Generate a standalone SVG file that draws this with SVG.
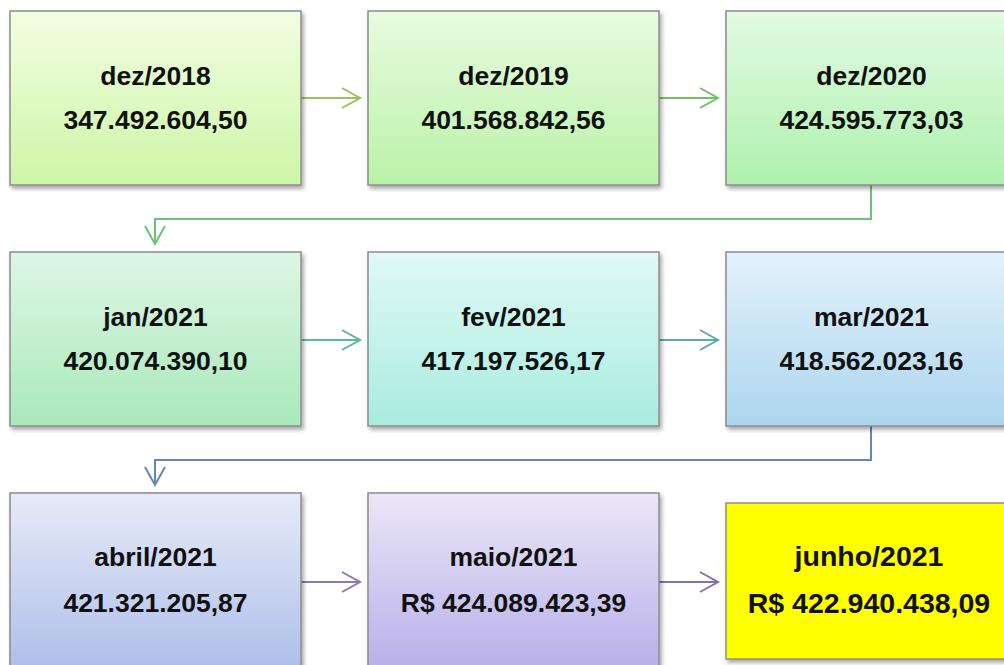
<svg xmlns="http://www.w3.org/2000/svg" width="1004" height="665" viewBox="0 0 1004 665">
<defs>
<style>
.box{stroke:#8c8c8c;stroke-width:1.5;filter:url(#sh)}
.t{font-family:"Liberation Sans",Arial,sans-serif;font-weight:bold;font-size:26.5px;fill:#111;text-anchor:middle}
.ty{font-size:28.5px}
.c{fill:none;stroke-width:2}
</style>
<filter id="sh" x="-5%" y="-5%" width="115%" height="115%">
<feDropShadow dx="2" dy="3" stdDeviation="2" flood-color="#000" flood-opacity="0.35"/>
</filter>
<linearGradient id="g1" x1="0" y1="0" x2="0" y2="1"><stop offset="0" stop-color="#f3fde2"/><stop offset="1" stop-color="#cdf6a6"/></linearGradient>
<linearGradient id="g2" x1="0" y1="0" x2="0" y2="1"><stop offset="0" stop-color="#e9fbdf"/><stop offset="1" stop-color="#baf2a9"/></linearGradient>
<linearGradient id="g3" x1="0" y1="0" x2="0" y2="1"><stop offset="0" stop-color="#e3fae2"/><stop offset="1" stop-color="#aef1ad"/></linearGradient>
<linearGradient id="g4" x1="0" y1="0" x2="0" y2="1"><stop offset="0" stop-color="#def6e5"/><stop offset="1" stop-color="#a9e9bb"/></linearGradient>
<linearGradient id="g5" x1="0" y1="0" x2="0" y2="1"><stop offset="0" stop-color="#e0f9f6"/><stop offset="1" stop-color="#a9ecdf"/></linearGradient>
<linearGradient id="g6" x1="0" y1="0" x2="0" y2="1"><stop offset="0" stop-color="#e4f1fa"/><stop offset="1" stop-color="#acd6ee"/></linearGradient>
<linearGradient id="g7" x1="0" y1="0" x2="0" y2="1"><stop offset="0" stop-color="#e7ebf8"/><stop offset="1" stop-color="#b0bfea"/></linearGradient>
<linearGradient id="g8" x1="0" y1="0" x2="0" y2="1"><stop offset="0" stop-color="#ebe7f7"/><stop offset="1" stop-color="#b9b0ea"/></linearGradient>
</defs>
<rect width="1004" height="665" fill="#fff"/>
<g id="connectors" class="c">
<path d="M301 98H359M342 88L360 98L342 108" stroke="#9bc35a"/>
<path d="M659 98H717M700 88L718 98L700 108" stroke="#72c063"/>
<path d="M871 185V219H155V243M145 226L155 244L165 226" stroke="#6cc17a"/>
<path d="M301 340H359M342 330L360 340L342 350" stroke="#5bb894"/>
<path d="M659 340H717M700 330L718 340L700 350" stroke="#5aaab0"/>
<path d="M871 426V460H155V484M145 467L155 485L165 467" stroke="#6585b5"/>
<path d="M301 582H359M342 572L360 582L342 592" stroke="#8a78bd"/>
<path d="M659 582H717M700 572L718 582L700 592" stroke="#8070b8"/>
</g>
<g id="n1"><rect class="box" x="10" y="11" width="291" height="174" fill="url(#g1)"/><text class="t" x="155.5" y="85">dez/2018</text><text class="t" x="155.5" y="129">347.492.604,50</text></g>
<g id="n2"><rect class="box" x="368" y="11" width="291" height="174" fill="url(#g2)"/><text class="t" x="513.5" y="85">dez/2019</text><text class="t" x="513.5" y="129">401.568.842,56</text></g>
<g id="n3"><rect class="box" x="726" y="11" width="291" height="174" fill="url(#g3)"/><text class="t" x="871.5" y="85">dez/2020</text><text class="t" x="871.5" y="129">424.595.773,03</text></g>
<g id="n4"><rect class="box" x="10" y="252" width="291" height="174" fill="url(#g4)"/><text class="t" x="155.5" y="326">jan/2021</text><text class="t" x="155.5" y="370">420.074.390,10</text></g>
<g id="n5"><rect class="box" x="368" y="252" width="291" height="174" fill="url(#g5)"/><text class="t" x="513.5" y="326">fev/2021</text><text class="t" x="513.5" y="370">417.197.526,17</text></g>
<g id="n6"><rect class="box" x="726" y="252" width="291" height="174" fill="url(#g6)"/><text class="t" x="871.5" y="326">mar/2021</text><text class="t" x="871.5" y="370">418.562.023,16</text></g>
<g id="n7"><rect class="box" x="10" y="493" width="291" height="174" fill="url(#g7)"/><text class="t" x="155.5" y="566">abril/2021</text><text class="t" x="155.5" y="612">421.321.205,87</text></g>
<g id="n8"><rect class="box" x="368" y="493" width="291" height="174" fill="url(#g8)"/><text class="t" x="513.5" y="566">maio/2021</text><text class="t" x="513.5" y="612">R$ 424.089.423,39</text></g>
<g id="n9"><rect class="box" x="726" y="503" width="291" height="156" fill="#ffff00"/><text class="t ty" x="869" y="566">junho/2021</text><text class="t ty" x="869" y="613">R$ 422.940.438,09</text></g>
</svg>
